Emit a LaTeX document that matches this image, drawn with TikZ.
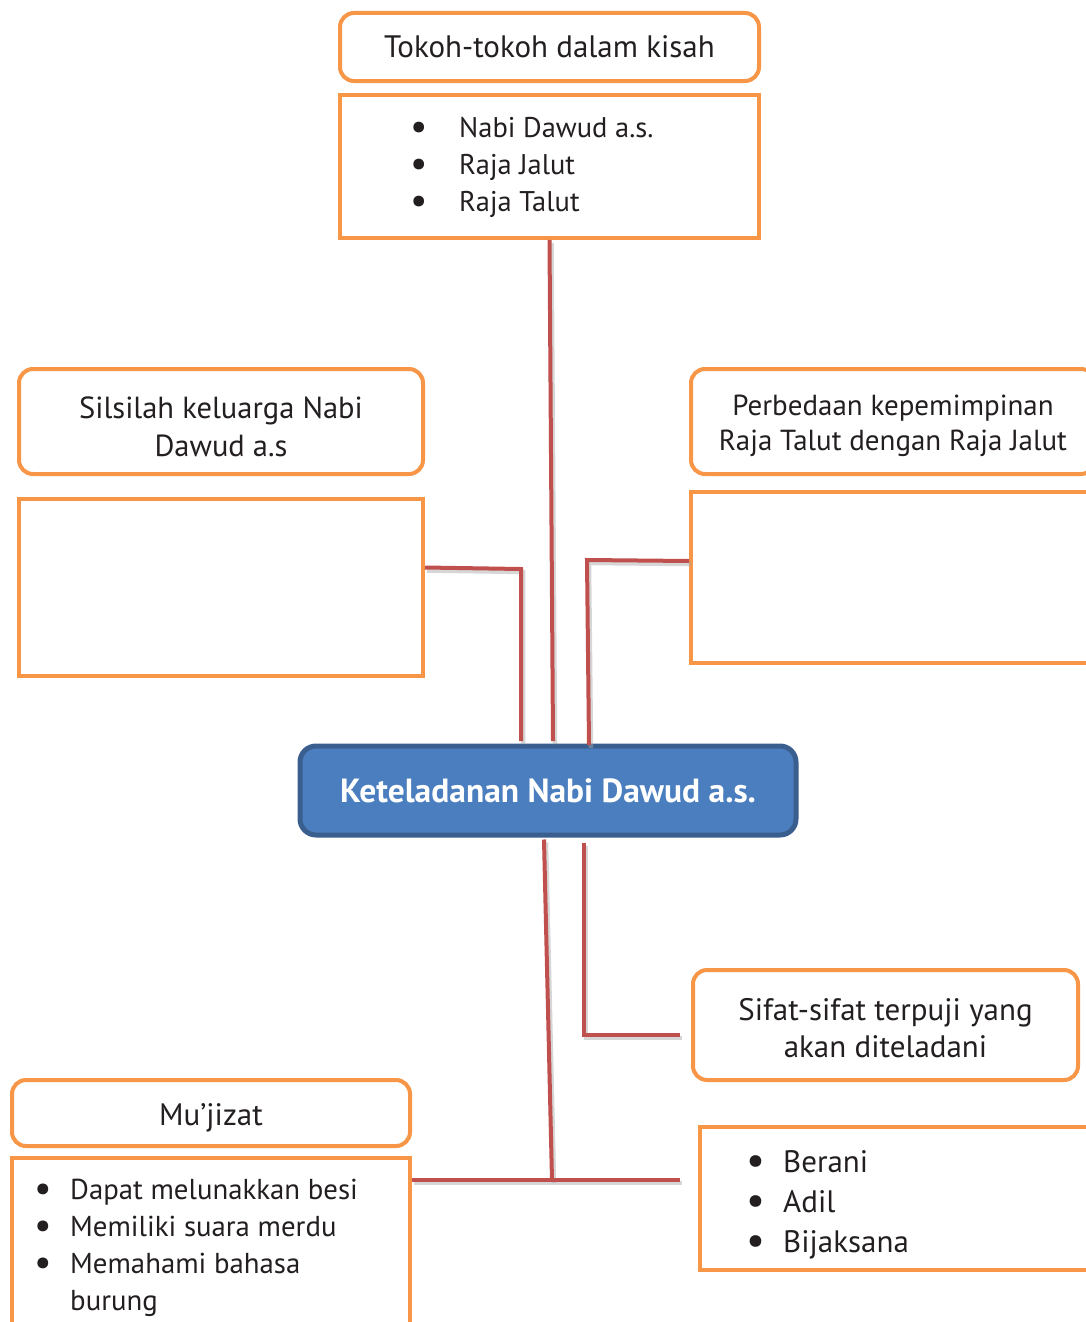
\documentclass[tikz,border=0pt]{standalone}
\usepackage{fontspec}
\setmainfont{PT Sans}
\usetikzlibrary{calc}
\definecolor{boxorange}{HTML}{F79646}
\definecolor{linkred}{HTML}{C0504D}
\definecolor{centerblue}{HTML}{4A7EBF}
\definecolor{centerborder}{HTML}{3A5F8F}
\definecolor{textgray}{HTML}{231F20}
\newcommand{\fsz}[2]{\fontsize{#1}{#2}\selectfont}
\newcommand{\bul}{\raisebox{-0.08em}{\scalebox{1.35}{•}}}
\newcommand{\lowered}[2]{\raisebox{-#1}[\height][\depth]{\begin{tabular}{@{}c@{}}#2\end{tabular}}}
\tikzset{
  titlebox/.style={draw=boxorange, line width=4pt, rounded corners=14pt, fill=white,
    inner sep=0pt, align=center, text=textgray},
  listbox/.style={draw=boxorange, line width=4pt, fill=white, inner sep=0pt},
  listtext/.style={anchor=base west, inner sep=0pt, text=textgray, align=left},
  centerbox/.style={draw=centerborder, line width=5pt, rounded corners=16pt, fill=centerblue,
    inner sep=0pt, text=white, font=\bfseries\fsz{33.5}{37}},
  link/.style={draw=linkred, line width=4pt,
    preaction={draw=black!35, opacity=0.45, line width=4.5pt, transform canvas={shift={(2pt,-3pt)}}}},
}
\begin{document}
\begin{tikzpicture}[x=1pt,y=-1pt]
\useasboundingbox (0,0) rectangle (1086,1322);
\clip (0,0) rectangle (1086,1322);
\fill[white] (0,0) rectangle (1086,1322);

% top group
\node[titlebox, minimum width=419pt, minimum height=68pt, font=\fsz{31}{37}] (tokoh) at (549.5,47) {Tokoh-tokoh dalam kisah};
\node[listbox, minimum width=419pt, minimum height=143pt] (tlist) at (549.5,166.5) {};
\node[listtext, font=\fsz{28.5}{37}] (tlisttext) at (410,137)
  {\begin{tabular}[t]{@{}p{49pt}@{}l@{}}\bul&Nabi Dawud a.s.\\ \bul&Raja Jalut\\ \bul&Raja Talut\end{tabular}};

% left middle group
\node[titlebox, minimum width=404pt, minimum height=105pt, font=\fsz{30.5}{38}] (silsilah) at (221,421.5) {\lowered{8pt}{Silsilah keluarga Nabi\\Dawud a.s}};
\node[listbox, minimum width=404pt, minimum height=177pt] (srect) at (221,587.5) {};

% right middle group
\node[titlebox, minimum width=404pt, minimum height=105pt, font=\fsz{29}{35}] (perbedaan) at (893,421.5) {\lowered{4pt}{Perbedaan kepemimpinan\\Raja Talut dengan Raja Jalut}};
\node[listbox, minimum width=404pt, minimum height=171pt] (prect) at (893,577.5) {};

% center
\node[centerbox, minimum width=496pt, minimum height=89pt] (center) at (548,790.5) {Keteladanan Nabi Dawud a.s.};

% right bottom group
\node[titlebox, minimum width=385pt, minimum height=110pt, font=\fsz{31}{37}] (sifat) at (885.5,1025) {\lowered{7pt}{Sifat-sifat terpuji yang\\akan diteladani}};
\node[listbox, minimum width=403pt, minimum height=143pt] (rlist) at (901.5,1198.5) {};
\node[listtext, font=\fsz{31}{40}] (rlisttext) at (746,1172)
  {\begin{tabular}[t]{@{}p{37pt}@{}l@{}}\bul&Berani\\ \bul&Adil\\ \bul&Bijaksana\end{tabular}};

% left bottom group
\node[titlebox, minimum width=398pt, minimum height=66pt, font=\fsz{31}{37}] (mujizat) at (211,1113) {\lowered{5pt}{Mu’jizat}};
\node[listbox, minimum width=398pt, minimum height=180pt] (mlist) at (211,1248) {};
\node[listtext, font=\fsz{28.8}{37}] (mlisttext) at (34,1199)
  {\begin{tabular}[t]{@{}p{36pt}@{}l@{}}\bul&Dapat melunakkan besi\\ \bul&Memiliki suara merdu\\ \bul&Memahami bahasa\\ &burung\end{tabular}};

% connectors
\draw[link] (tlist.south) -- (553,741);
\draw[link] ([yshift=20pt]srect.east) -- (521,569) -- (521,741);
\draw[link] ([yshift=16.5pt]prect.west) -- (587,560) -- (589,745);
\draw[link] ([xshift=-4pt,yshift=-2pt]center.south) -- (552,1180);
\draw[link] (mlist.north east |- 0,1180) -- (680,1180);
\draw[link] ([xshift=36pt,yshift=-5pt]center.south) -- (584,1035) -- (680,1035);
\end{tikzpicture}
\end{document}
